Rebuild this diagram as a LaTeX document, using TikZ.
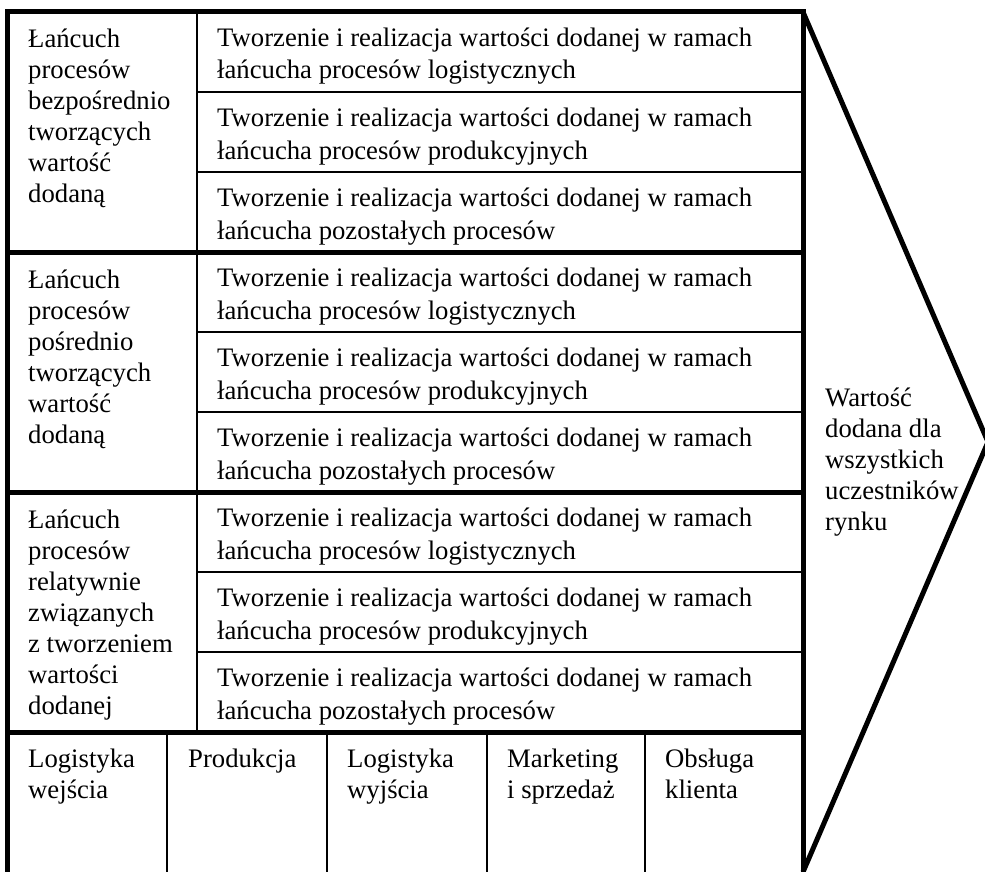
\documentclass[tikz,border=0pt]{standalone}
\usepackage{fontspec}
\setmainfont{Liberation Serif}
\newcommand{\celltxt}[1]{\begin{tabular}[t]{@{}l@{}}#1\end{tabular}}
\begin{document}
\begin{tikzpicture}[x=1pt, y=-1pt,
    txt/.style={anchor=base west, inner sep=0pt, font=\fontsize{26.7}{31}\selectfont},
    rowtxt/.style={txt, font=\fontsize{26.7}{32.5}\selectfont},
    heavy/.style={line width=5pt},
    light/.style={line width=1.8pt}]
  \useasboundingbox (0,0) rectangle (985,872);

  % frame and arrow head
  \draw[heavy, line join=miter] (7.5,872) -- (7.5,12) -- (803,12) -- (803,872);
  \draw[heavy] (803,12) -- (988,442) -- (803,872);

  % grid
  \foreach \y in {252,492,732} \draw[heavy] (7.5,\y) -- (803,\y);
  \foreach \y in {92,172,332,412,572,652} \draw[light] (197,\y) -- (803,\y);
  \draw[light] (197,12) -- (197,732);
  \foreach \x in {167,327,487,645} \draw[light] (\x,732) -- (\x,872);

  % left column
  \node[txt] (direct) at (28,48) {\celltxt{Łańcuch\\procesów\\bezpośrednio\\tworzących\\wartość\\dodaną}};
  \node[txt] (indirect) at (28,288) {\celltxt{Łańcuch\\procesów\\pośrednio\\tworzących\\wartość\\dodaną}};
  \node[txt] (related) at (28,528) {\celltxt{Łańcuch\\procesów\\relatywnie\\związanych\\z tworzeniem\\wartości\\dodanej}};

  % rows
  \node[rowtxt] (d1) at (217,46.5) {\celltxt{Tworzenie i realizacja wartości dodanej w ramach\\łańcucha procesów logistycznych}};
  \node[rowtxt] (d2) at (217,126.5) {\celltxt{Tworzenie i realizacja wartości dodanej w ramach\\łańcucha procesów produkcyjnych}};
  \node[rowtxt] (d3) at (217,206.5) {\celltxt{Tworzenie i realizacja wartości dodanej w ramach\\łańcucha pozostałych procesów}};
  \node[rowtxt] (i1) at (217,286.5) {\celltxt{Tworzenie i realizacja wartości dodanej w ramach\\łańcucha procesów logistycznych}};
  \node[rowtxt] (i2) at (217,366.5) {\celltxt{Tworzenie i realizacja wartości dodanej w ramach\\łańcucha procesów produkcyjnych}};
  \node[rowtxt] (i3) at (217,446.5) {\celltxt{Tworzenie i realizacja wartości dodanej w ramach\\łańcucha pozostałych procesów}};
  \node[rowtxt] (r1) at (217,526.5) {\celltxt{Tworzenie i realizacja wartości dodanej w ramach\\łańcucha procesów logistycznych}};
  \node[rowtxt] (r2) at (217,606.5) {\celltxt{Tworzenie i realizacja wartości dodanej w ramach\\łańcucha procesów produkcyjnych}};
  \node[rowtxt] (r3) at (217,686.5) {\celltxt{Tworzenie i realizacja wartości dodanej w ramach\\łańcucha pozostałych procesów}};

  % primary activities
  \node[txt] (inlog) at (28,767) {\celltxt{Logistyka\\wejścia}};
  \node[txt] (prod) at (188,767) {\celltxt{Produkcja}};
  \node[txt] (outlog) at (347,767) {\celltxt{Logistyka\\wyjścia}};
  \node[txt] (market) at (507,767) {\celltxt{Marketing\\i sprzedaż}};
  \node[txt] (service) at (665,767) {\celltxt{Obsługa\\klienta}};

  % arrow text
  \node[txt] (value) at (825,406) {\celltxt{Wartość\\dodana dla\\wszystkich\\uczestników\\rynku}};
\end{tikzpicture}
\end{document}
